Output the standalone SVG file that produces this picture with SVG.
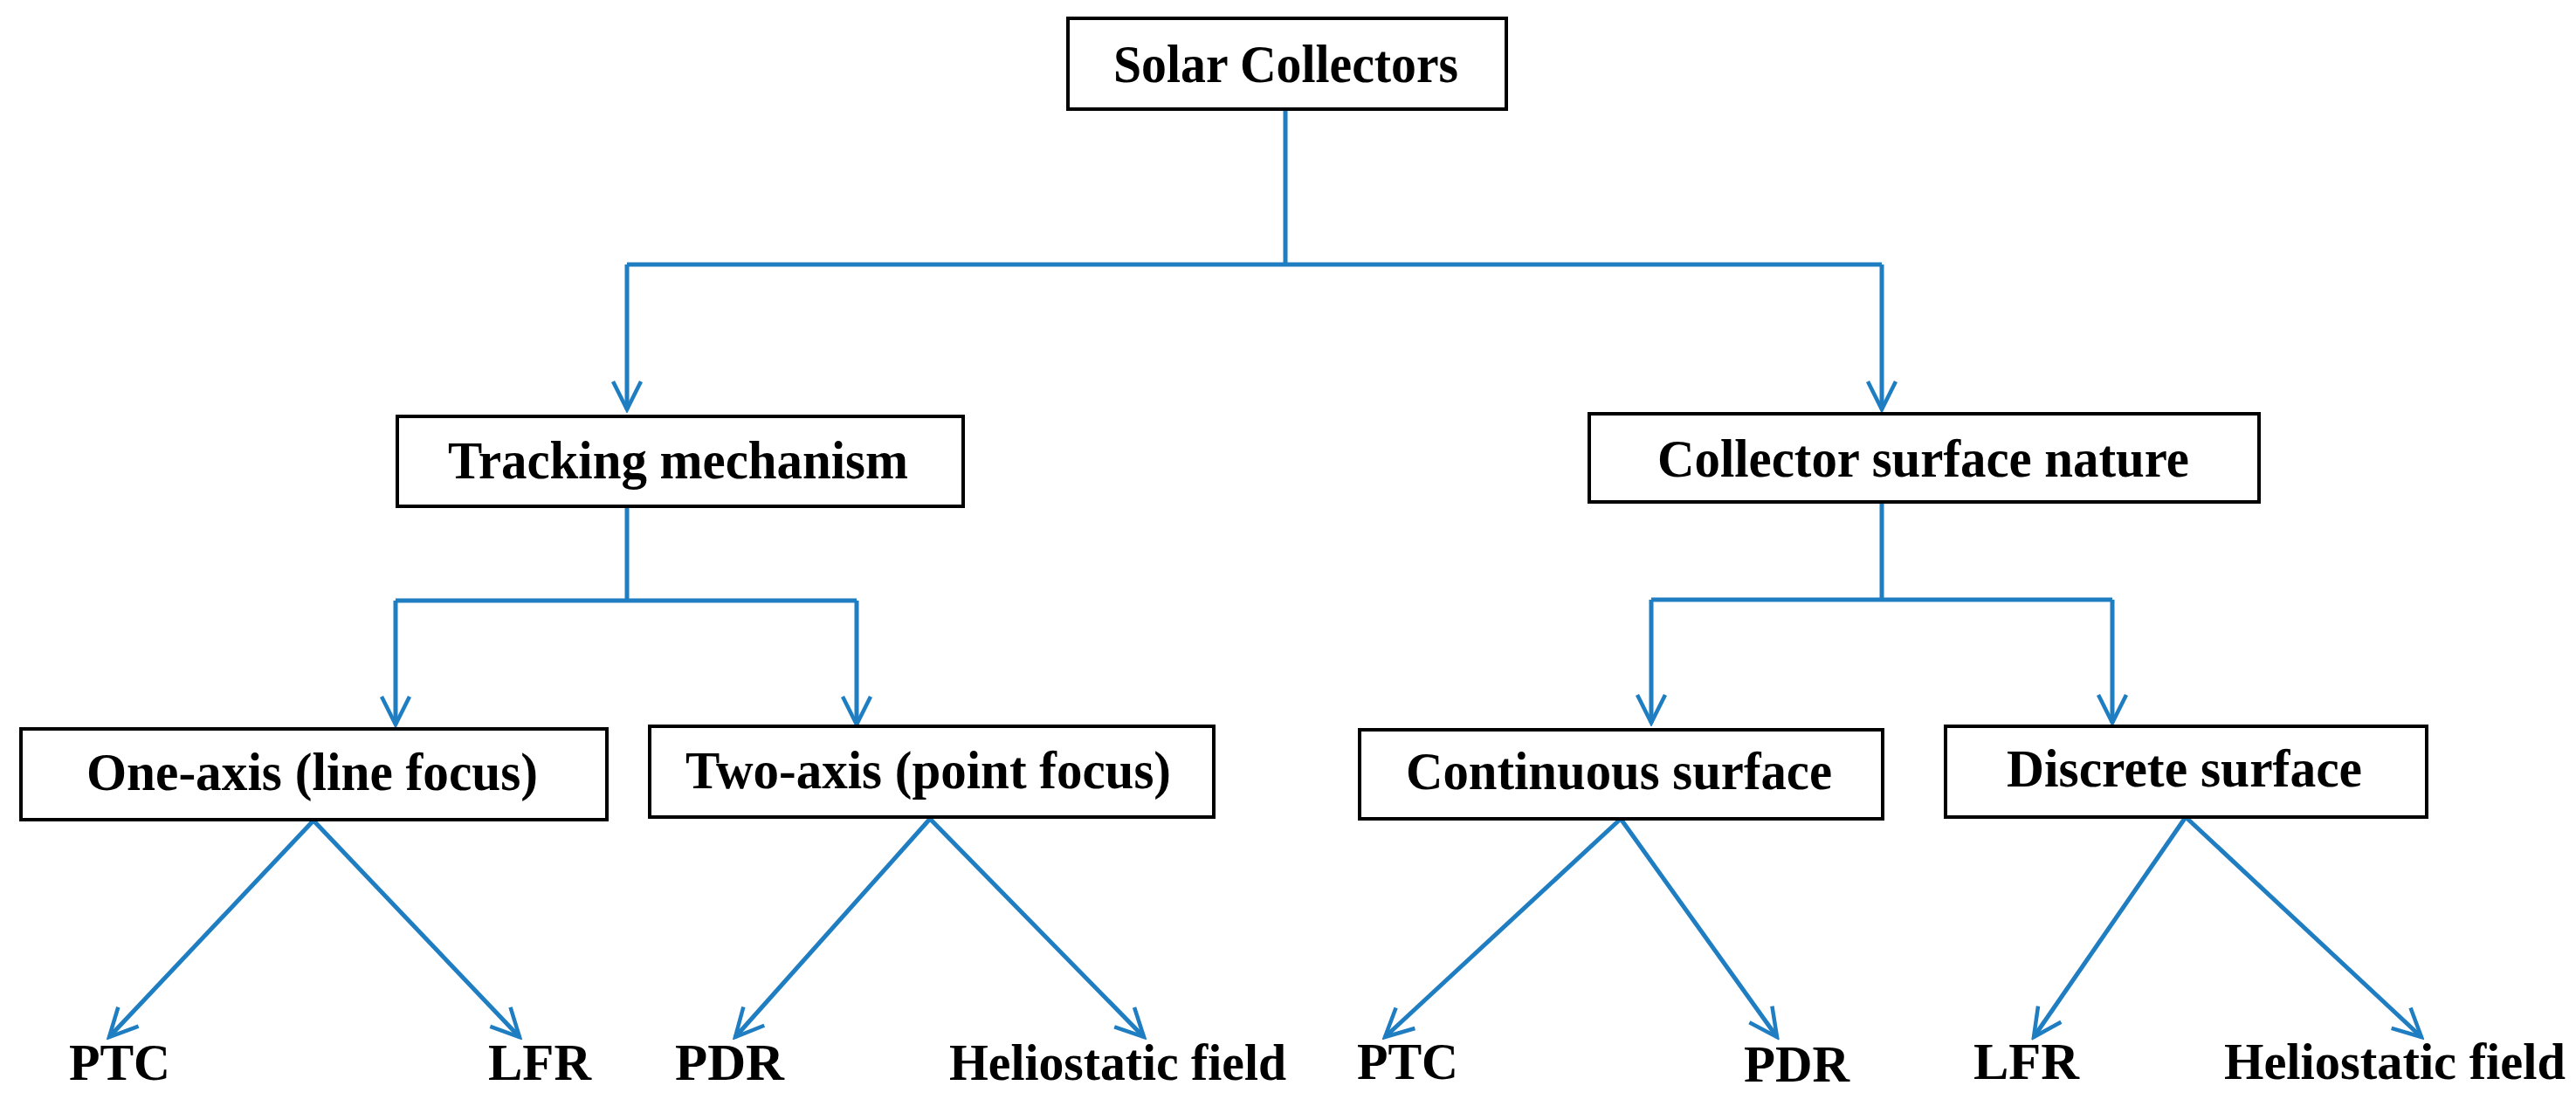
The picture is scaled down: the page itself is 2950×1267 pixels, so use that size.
<svg xmlns="http://www.w3.org/2000/svg" width="2950" height="1267" viewBox="0 0 2950 1267">
<style>
.box{fill:#fff;stroke:#000;stroke-width:4}
.t{font-family:"Liberation Serif","Times New Roman",serif;font-weight:bold;font-size:62px;fill:#000}
.l{font-family:"Liberation Serif","Times New Roman",serif;font-weight:bold;font-size:60px;fill:#000}
.c{fill:none;stroke:#1F7DC1;stroke-width:5}
</style>
<defs>
<marker id="a" markerUnits="userSpaceOnUse" markerWidth="40" markerHeight="40" refX="36" refY="20" orient="auto" viewBox="0 0 40 40">
<path d="M4,4 L36,20 L4,36" fill="none" stroke="#1F7DC1" stroke-width="4.5"/>
</marker>
</defs>
<rect width="2950" height="1267" fill="#fff"/>
<g id="connectors" class="c">
<path d="M1472,125 V303 M718,303 H2155"/>
<path d="M718,303 V469" marker-end="url(#a)"/>
<path d="M2155,303 V469" marker-end="url(#a)"/>
<path d="M718,580 V688 M453,688 H981 M2155,575 V687 M1891,687 H2419"/>
<path d="M453,688 V830" marker-end="url(#a)"/>
<path d="M981,688 V830" marker-end="url(#a)"/>
<path d="M1891,687 V828" marker-end="url(#a)"/>
<path d="M2419,687 V828" marker-end="url(#a)"/>
<path d="M359,940 L125,1188" marker-end="url(#a)"/>
<path d="M359,940 L595,1188" marker-end="url(#a)"/>
<path d="M1065,938 L842,1188" marker-end="url(#a)"/>
<path d="M1065,938 L1310,1188" marker-end="url(#a)"/>
<path d="M1856,938 L1586,1188" marker-end="url(#a)"/>
<path d="M1856,938 L2035,1188" marker-end="url(#a)"/>
<path d="M2503,936 L2329,1188" marker-end="url(#a)"/>
<path d="M2503,936 L2773,1188" marker-end="url(#a)"/>
</g>
<g id="solar"><rect class="box" x="1223" y="21" width="502" height="104"/><text class="t" x="1275" y="94" textLength="395" lengthAdjust="spacingAndGlyphs">Solar Collectors</text></g>
<g id="tracking"><rect class="box" x="455" y="477" width="648" height="103"/><text class="t" x="513" y="548" textLength="527" lengthAdjust="spacingAndGlyphs">Tracking mechanism</text></g>
<g id="surface"><rect class="box" x="1820" y="474" width="767" height="101"/><text class="t" x="1898" y="546" textLength="609" lengthAdjust="spacingAndGlyphs">Collector surface nature</text></g>
<g id="oneaxis"><rect class="box" x="24" y="835" width="671" height="104"/><text class="t" x="99" y="905" textLength="517" lengthAdjust="spacingAndGlyphs">One-axis (line focus)</text></g>
<g id="twoaxis"><rect class="box" x="744" y="832" width="646" height="104"/><text class="t" x="785" y="903" textLength="556" lengthAdjust="spacingAndGlyphs">Two-axis (point focus)</text></g>
<g id="continuous"><rect class="box" x="1557" y="836" width="599" height="102"/><text class="t" x="1610" y="904" textLength="488" lengthAdjust="spacingAndGlyphs">Continuous surface</text></g>
<g id="discrete"><rect class="box" x="2228" y="832" width="551" height="104"/><text class="t" x="2298" y="901" textLength="407" lengthAdjust="spacingAndGlyphs">Discrete surface</text></g>
<g id="leaf1"><text class="l" x="79" y="1237" textLength="116" lengthAdjust="spacingAndGlyphs">PTC</text></g>
<g id="leaf2"><text class="l" x="559" y="1237" textLength="118" lengthAdjust="spacingAndGlyphs">LFR</text></g>
<g id="leaf3"><text class="l" x="773" y="1237" textLength="125" lengthAdjust="spacingAndGlyphs">PDR</text></g>
<g id="leaf4"><text class="l" x="1087" y="1237" textLength="386" lengthAdjust="spacingAndGlyphs">Heliostatic field</text></g>
<g id="leaf5"><text class="l" x="1554" y="1236" textLength="116" lengthAdjust="spacingAndGlyphs">PTC</text></g>
<g id="leaf6"><text class="l" x="1997" y="1239" textLength="121" lengthAdjust="spacingAndGlyphs">PDR</text></g>
<g id="leaf7"><text class="l" x="2260" y="1236" textLength="121" lengthAdjust="spacingAndGlyphs">LFR</text></g>
<g id="leaf8"><text class="l" x="2547" y="1236" textLength="391" lengthAdjust="spacingAndGlyphs">Heliostatic field</text></g>
</svg>
